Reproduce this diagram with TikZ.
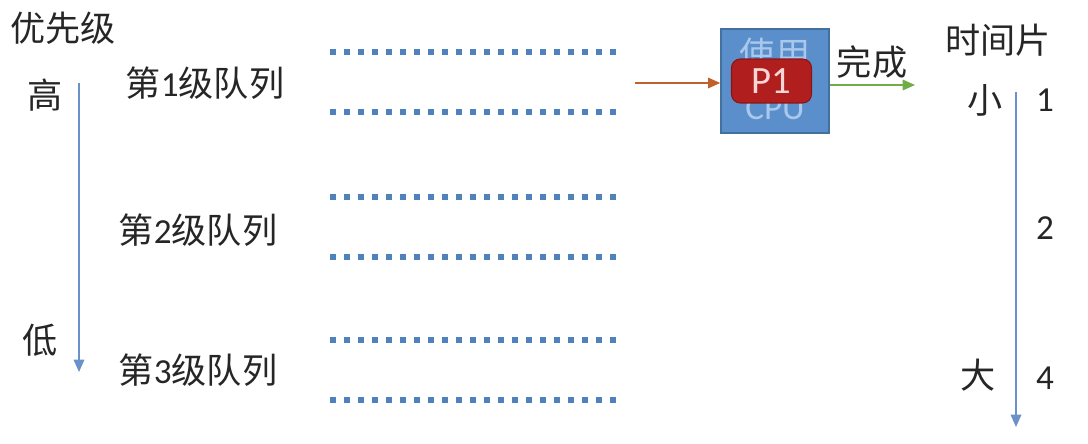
\documentclass[tikz,border=0pt]{standalone}
\usepackage{fontspec}
\setmainfont{Carlito}
\newfontfamily\cjk{Noto Sans CJK SC}
\usetikzlibrary{arrows.meta}
\definecolor{txtgray}{HTML}{262626}
\definecolor{axisblue}{HTML}{6A92C8}
\definecolor{dotblue}{HTML}{4F81BD}
\definecolor{cpublue}{HTML}{5B8FCC}
\definecolor{cpuedge}{HTML}{41719C}
\definecolor{cpulight}{HTML}{A9C8EC}
\definecolor{pred}{HTML}{B01E1E}
\definecolor{predge}{HTML}{8A1515}
\definecolor{ptext}{HTML}{F9D6D6}
\definecolor{inorange}{HTML}{C0602A}
\definecolor{outgreen}{HTML}{70AD47}
\newcommand{\qname}[1]{{\cjk 第}#1{\cjk 级队列}}

\begin{document}
\begin{tikzpicture}[
    x=0.02cm, y=-0.02cm,
    lbl/.style={text=txtgray, inner sep=0pt, font=\fontsize{20}{24}\selectfont},
    qline/.style={dotblue, line width=0.12cm, dash pattern=on 0.12cm off 0.16cm},
    axis/.style={axisblue, line width=0.9pt, -{Triangle[length=7pt, width=6pt]}},
    cpubox/.style={draw=cpuedge, fill=cpublue, line width=0.8pt,
        minimum width=2.16cm, minimum height=2.08cm, inner sep=0pt},
    pbox/.style={draw=predge, fill=pred, rounded corners=5pt, line width=0.6pt,
        minimum width=1.6cm, minimum height=0.88cm, inner sep=0pt,
        text=ptext, font=\fontsize{22}{26}\selectfont}
]
    \useasboundingbox (0,0) rectangle (1088,443);

    % 优先级 (左侧)
    \node[lbl] (prio) at (63,28) {\cjk 优先级};
    \node[lbl] (high) at (45,95) {\cjk 高};
    \node[lbl] (low)  at (40,340) {\cjk 低};
    \coordinate (prioTop) at (79,83);
    \coordinate (prioEnd) at (79,372);
    \draw[axis] (prioTop) -- (prioEnd);

    % 三级队列
    \node[lbl] (q1) at (205,83)  {\qname{1}};
    \node[lbl] (q2) at (198,230) {\qname{2}};
    \node[lbl] (q3) at (198,370) {\qname{3}};
    \foreach \y in {52,112,197,257,340,400}
        \draw[qline] (330,\y) -- (618,\y);

    % CPU 与进程 P1
    \node[cpubox] (cpu) at (775,81) {};
    \node[text=cpulight, inner sep=0pt, font=\fontsize{20}{24}\selectfont] (cpuTop) at (775,54) {\cjk 使用};
    \node[text=cpulight, inner sep=0pt, font=\fontsize{20}{24}\selectfont] (cpuBot) at (775,108) {CPU};
    \node[pbox] (p1) at (771.5,81) {P1};

    \coordinate (feed) at (635,83);
    \draw[inorange, line width=0.9pt, -{Triangle[length=7pt, width=6pt]}] (feed) -- (feed -| cpu.west);
    \coordinate (done) at (915,85);
    \draw[outgreen, line width=0.9pt, -{Triangle[length=7pt, width=6pt]}] (done -| cpu.east) -- (done);
    \node[lbl] (fin) at (872,62) {\cjk 完成};

    % 时间片 (右侧)
    \node[lbl] (slice) at (998,40) {\cjk 时间片};
    \node[lbl] (small) at (985,100) {\cjk 小};
    \node[lbl] (big)   at (978,375) {\cjk 大};
    \node[lbl] (t1) at (1045,100) {1};
    \node[lbl] (t2) at (1045,228) {2};
    \node[lbl] (t4) at (1045,378) {4};
    \coordinate (sliceTop) at (1016,92);
    \coordinate (sliceEnd) at (1016,427);
    \draw[axis] (sliceTop) -- (sliceEnd);
\end{tikzpicture}
\end{document}
